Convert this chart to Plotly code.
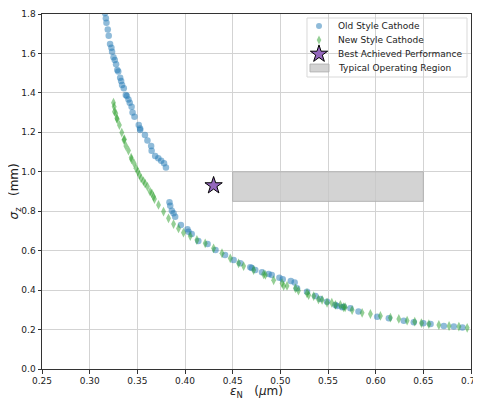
import plotly.graph_objects as go

old_x = [0.316, 0.317, 0.3176, 0.319, 0.320, 0.3214, 0.3228, 0.3235, 0.325, 0.3263, 0.3277, 0.329, 0.330,
         0.332, 0.333, 0.334, 0.3358, 0.3379, 0.339, 0.3407, 0.342, 0.344, 0.345, 0.347, 0.3515, 0.3529,
         0.353, 0.358, 0.3606, 0.3645, 0.365, 0.3687, 0.372, 0.375, 0.378, 0.380,
         0.3837, 0.3845, 0.3862, 0.388, 0.3897, 0.3957, 0.4026, 0.4037, 0.407, 0.414, 0.4237, 0.432,
         0.442, 0.451, 0.458, 0.4685, 0.470, 0.4737, 0.4808, 0.4877, 0.491, 0.499, 0.5025, 0.511, 0.515,
         0.5175, 0.528, 0.5368, 0.542, 0.549, 0.5578, 0.5596, 0.5648, 0.5665, 0.5735, 0.582, 0.6016,
         0.6138, 0.6295, 0.640, 0.650, 0.6576, 0.6715, 0.682, 0.691]
old_y = [1.804, 1.778, 1.756, 1.722, 1.690, 1.648, 1.629, 1.609, 1.581, 1.567, 1.545, 1.516, 1.508,
         1.477, 1.460, 1.440, 1.423, 1.389, 1.384, 1.367, 1.350, 1.330, 1.300, 1.279, 1.237, 1.220,
         1.212, 1.187, 1.158, 1.131, 1.107, 1.080, 1.068, 1.056, 1.043, 1.022,
         0.845, 0.828, 0.803, 0.790, 0.772, 0.730, 0.708, 0.696, 0.685, 0.649, 0.634, 0.603,
         0.578, 0.553, 0.536, 0.516, 0.512, 0.502, 0.490, 0.482, 0.477, 0.463, 0.455, 0.446, 0.438,
         0.409, 0.392, 0.370, 0.355, 0.341, 0.325, 0.319, 0.313, 0.316, 0.308, 0.291, 0.265,
         0.257, 0.245, 0.237, 0.232, 0.228, 0.218, 0.215, 0.211]

new_x = [0.325, 0.3257, 0.326, 0.3274, 0.3285, 0.329, 0.3312, 0.3337, 0.336, 0.3364, 0.338, 0.3407,
         0.3435, 0.344, 0.3466, 0.3487, 0.3505, 0.3522, 0.354, 0.3564, 0.3582, 0.3606, 0.3634, 0.3652,
         0.367, 0.368, 0.3722, 0.3775, 0.3827, 0.388, 0.3932, 0.3984, 0.4055, 0.4125, 0.4212, 0.430,
         0.4388, 0.4475, 0.4562, 0.4615, 0.472, 0.4825, 0.4843, 0.493, 0.5018, 0.5035, 0.507, 0.5158,
         0.519, 0.528, 0.5297, 0.535, 0.540, 0.5438, 0.549, 0.554, 0.5578, 0.563, 0.5665, 0.568,
         0.5753, 0.5858, 0.5945, 0.605, 0.6155, 0.6243, 0.633, 0.641, 0.648, 0.6558, 0.6663, 0.677,
         0.6873, 0.696]
new_y = [1.350, 1.330, 1.305, 1.297, 1.271, 1.266, 1.237, 1.199, 1.161, 1.165, 1.131, 1.108,
         1.072, 1.063, 1.043, 1.018, 1.001, 0.984, 0.967, 0.953, 0.940, 0.925, 0.899, 0.891,
         0.874, 0.862, 0.832, 0.798, 0.764, 0.735, 0.713, 0.691, 0.674, 0.654, 0.637, 0.612,
         0.587, 0.561, 0.536, 0.522, 0.502, 0.480, 0.477, 0.450, 0.435, 0.421, 0.421, 0.409,
         0.397, 0.384, 0.375, 0.370, 0.353, 0.350, 0.336, 0.336, 0.325, 0.325, 0.313, 0.313,
         0.299, 0.285, 0.279, 0.269, 0.260, 0.254, 0.245, 0.240, 0.233, 0.228, 0.223, 0.218,
         0.215, 0.209]

best_x = [0.43]
best_y = [0.93]

region_x = [0.45, 0.65, 0.65, 0.45, 0.45]
region_y = [0.85, 0.85, 1.00, 1.00, 0.85]

x_ticks = [0.25, 0.30, 0.35, 0.40, 0.45, 0.50, 0.55, 0.60, 0.65, 0.70]
y_ticks = [0.0, 0.2, 0.4, 0.6, 0.8, 1.0, 1.2, 1.4, 1.6, 1.8]

legend_labels = ["Old Style Cathode", "New Style Cathode",
                 "Best Achieved Performance", "Typical Operating Region"]

x_title = "<i>ε</i><sub>N</sub>   (<i>μ</i>m)"
y_title = "<i>σ</i><sub>z</sub>   (mm)"

FONT = "DejaVu Sans"
OLD_COLOR = "rgba(31,119,180,0.5)"
NEW_COLOR = "rgba(44,160,44,0.5)"
STAR_COLOR = "#9467bd"
REGION_FILL = "rgba(200,200,200,0.8)"
REGION_LINE = "rgba(175,175,175,0.9)"

fig = go.Figure()
fig.add_trace(go.Scatter(
    x=old_x, y=old_y, mode="markers", name=legend_labels[0], showlegend=False,
    marker=dict(symbol="circle", size=6.5, color=OLD_COLOR, line=dict(width=0)),
))
fig.add_trace(go.Scatter(
    x=new_x, y=new_y, mode="markers", name=legend_labels[1], showlegend=False,
    marker=dict(symbol="diamond-tall", size=7, color=NEW_COLOR, line=dict(width=0)),
))
fig.add_trace(go.Scatter(
    x=best_x, y=best_y, mode="markers", name=legend_labels[2], showlegend=False,
    marker=dict(symbol="star", size=13, color=STAR_COLOR, line=dict(width=1, color="black")),
))
fig.add_trace(go.Scatter(
    x=region_x, y=region_y, mode="lines", fill="toself", name=legend_labels[3], showlegend=False,
    fillcolor=REGION_FILL, line=dict(color=REGION_LINE, width=1),
))

# ---- hand-made compact legend (positions in plot-area fractions) ----
lg_x0, lg_x1, lg_y0, lg_y1 = 0.6177, 0.9907, 0.8225, 0.9887
glyph_x = 0.6457
text_x = 0.6853
row_y = [0.9662, 0.9268, 0.8873, 0.8479]

fig.add_shape(type="rect", xref="paper", yref="paper", x0=lg_x0, x1=lg_x1, y0=lg_y0, y1=lg_y1,
              fillcolor="rgba(255,255,255,0.85)", line=dict(color="#d9d9d9", width=1), layer="between")
fig.add_trace(go.Scatter(x=[glyph_x], y=[row_y[0]], xaxis="x2", yaxis="y2", mode="markers",
                         showlegend=False, hoverinfo="skip",
                         marker=dict(symbol="circle", size=6, color=OLD_COLOR, line=dict(width=0))))
fig.add_trace(go.Scatter(x=[glyph_x], y=[row_y[1]], xaxis="x2", yaxis="y2", mode="markers",
                         showlegend=False, hoverinfo="skip",
                         marker=dict(symbol="diamond-tall", size=6.5, color=NEW_COLOR, line=dict(width=0))))
fig.add_trace(go.Scatter(x=[glyph_x], y=[row_y[2]], xaxis="x2", yaxis="y2", mode="markers",
                         showlegend=False, hoverinfo="skip",
                         marker=dict(symbol="star", size=13, color=STAR_COLOR, line=dict(width=1, color="black"))))
fig.add_shape(type="rect", xref="paper", yref="paper", x0=0.6247, x1=0.6690,
              y0=row_y[3] - 0.0110, y1=row_y[3] + 0.0110,
              fillcolor=REGION_FILL, line=dict(color=REGION_LINE, width=1), layer="above")
for lbl, yy in zip(legend_labels, row_y):
    fig.add_annotation(x=text_x, y=yy, xref="paper", yref="paper", text=lbl, showarrow=False,
                       xanchor="left", yanchor="middle",
                       font=dict(family=FONT, size=9, color="#222222"))

# axis titles as annotations
fig.add_annotation(x=0.5, y=-0.065, xref="paper", yref="paper", text=x_title, showarrow=False,
                   xanchor="center", yanchor="middle", font=dict(family=FONT, size=12, color="#222222"))
fig.add_annotation(x=-0.063, y=0.5, xref="paper", yref="paper", text=y_title, showarrow=False,
                   textangle=-90, xanchor="center", yanchor="middle",
                   font=dict(family=FONT, size=12, color="#222222"))

axis_common = dict(
    showgrid=True, gridcolor="#d3d3d3", gridwidth=1,
    showline=True, linecolor="#333333", linewidth=1, mirror=True,
    ticks="outside", ticklen=3.5, tickcolor="#333333",
    tickfont=dict(family=FONT, size=9, color="#222222"),
    zeroline=False, automargin=False, ticklabeloverflow="allow",
)

# the page body has an 8px default margin, so the figure is sized/offset to fit the window
fig.update_layout(
    template="none",
    width=476, height=390,
    margin=dict(l=34, r=13, t=6, b=29),
    paper_bgcolor="white", plot_bgcolor="white",
    font=dict(family=FONT, color="#222222"),
    showlegend=False,
    xaxis=dict(range=[0.25, 0.70], tickvals=x_ticks, ticktext=[f"{v:.2f}" for v in x_ticks],
               **axis_common),
    yaxis=dict(range=[0.0, 1.8], tickvals=y_ticks, ticktext=[f"{v:.1f}" for v in y_ticks],
               **axis_common),
    xaxis2=dict(overlaying="x", range=[0, 1], visible=False, fixedrange=True),
    yaxis2=dict(overlaying="y", range=[0, 1], visible=False, fixedrange=True),
)

fig.write_html("out.html")
